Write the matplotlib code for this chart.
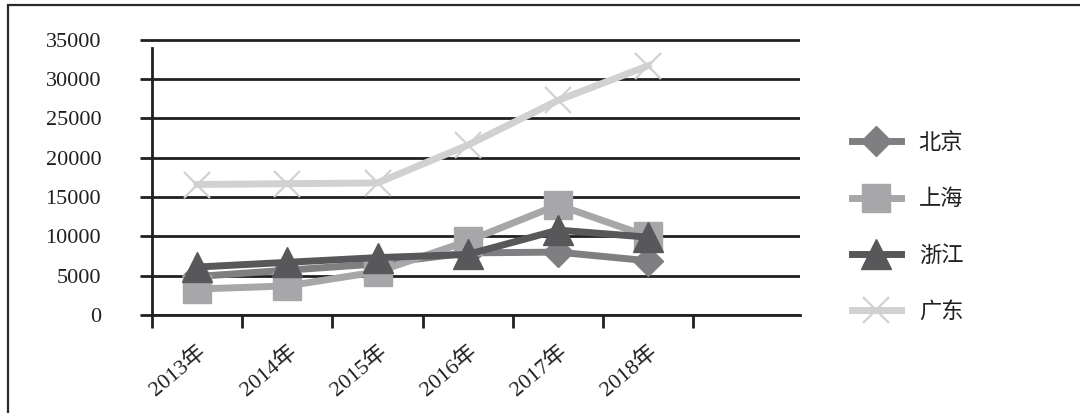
import numpy as np
import matplotlib.pyplot as plt
from matplotlib.patches import Rectangle

# 各省市数据（2013-2018）
years = ["2013年", "2014年", "2015年", "2016年", "2017年", "2018年"]
beijing = [4900, 5700, 6500, 7900, 8000, 6900]
shanghai = [3300, 3700, 5500, 9400, 14000, 10000]
zhejiang = [6100, 6700, 7300, 7700, 10800, 9900]
guangdong = [16600, 16700, 16800, 21600, 27300, 31700]

ink = "#231f20"
serif_cjk = ["Liberation Serif", "Noto Sans CJK SC"]

fig = plt.figure(figsize=(10.8, 4.13), dpi=100)

# outer frame
fig.patches.append(Rectangle((8 / 1080, -0.2), 1.2, 1.2 - 5 / 413,
                             transform=fig.transFigure, fill=False,
                             edgecolor="#2a2a2a", lw=1.6))

ax = fig.add_axes([152 / 1080, (413 - 315) / 413, 648 / 1080, (315 - 32) / 413])

x = np.arange(len(years))
ax.plot(x, beijing, color="#7f7f81", lw=5, marker="D", ms=15, label="北京", zorder=3)
ax.plot(x, shanghai, color="#a7a7a9", lw=5, marker="s", ms=20, label="上海", zorder=4)
ax.plot(x, zhejiang, color="#58585a", lw=5, marker="^", ms=22, label="浙江", zorder=5)
ax.plot(x, guangdong, color="#d1d1d2", lw=5, marker="x", ms=19, mew=1.6,
        label="广东", zorder=6)

ax.set_xlim(-0.5, -0.5 + 648 / 90.2)
ax.set_ylim(0, 36000)

# y axis: black gridlines with outward ticks
ax.set_yticks(np.arange(0, 35001, 5000))
ax.yaxis.grid(True, color=ink, lw=2)
ax.set_axisbelow(True)
ax.tick_params(axis="y", direction="out", length=8.6, width=2, color=ink,
               pad=28, labelsize=16, labelcolor=ink)
for t in ax.get_yticklabels():
    t.set_family(serif_cjk)

# x axis: ticks at category boundaries, labels at centres
ax.set_xticks(np.arange(-0.5, 6, 1))
ax.set_xticklabels([])
ax.set_xticks(x, minor=True)
ax.set_xticklabels(years, minor=True)
ax.tick_params(axis="x", which="major", direction="out", length=9.4, width=2, color=ink)
ax.tick_params(axis="x", which="minor", length=0, pad=19, labelsize=16, labelcolor=ink)
for t in ax.get_xticklabels(minor=True):
    t.set_family(serif_cjk)
    t.set_rotation(40)
    t.set_ha("right")
    t.set_va("top")
    t.set_rotation_mode("anchor")

for side in ["top", "right"]:
    ax.spines[side].set_visible(False)
ax.spines["left"].set_bounds(0, 34000)
ax.spines["left"].set_linewidth(2)
ax.spines["left"].set_color(ink)
ax.spines["bottom"].set_linewidth(2)
ax.spines["bottom"].set_color(ink)

leg = ax.legend(loc="center left", bbox_to_anchor=(832 / 1080, (413 - 227) / 413),
                bbox_transform=fig.transFigure, frameon=False, handlelength=2.2,
                labelspacing=1.5, handletextpad=0.8,
                prop={"family": ["Noto Sans CJK SC"], "size": 16, "weight": "light"})
for t in leg.get_texts():
    t.set_color(ink)

fig.savefig("out.png", dpi=100)
